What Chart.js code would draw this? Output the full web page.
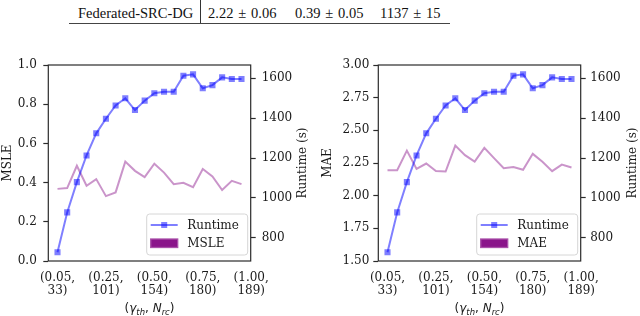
<!DOCTYPE html>
<html>
<head>
<meta charset="utf-8">
<script src="https://cdn.jsdelivr.net/npm/chart.js@4.4.1/dist/chart.umd.min.js"></script>
<style>
  html, body { margin: 0; padding: 0; background: #fff; }
  body { width: 640px; height: 316px; position: relative; overflow: hidden; font-family: 'Liberation Serif', serif; }
  .cell { position: absolute; top: 6px; font-size: 14.5px; line-height: 14.5px; color: #111; white-space: pre; }
  #vrule { position: absolute; left: 200px; top: 0; width: 1px; height: 23px; background: #333; }
  #hrule { position: absolute; left: 69px; top: 22.6px; width: 381px; height: 1.4px; background: #444; }
  .box { position: absolute; top: 30px; width: 320px; height: 286px; }
</style>
</head>
<body>
<div class="cell" style="left:78px">Federated-SRC-DG</div>
<div id="vrule"></div>
<div class="cell" style="left:208px">2.22&#8196;±&#8196;0.06</div>
<div class="cell" style="left:295px">0.39&#8196;±&#8196;0.05</div>
<div class="cell" style="left:380px">1137&#8196;±&#8196;15</div>
<div id="hrule"></div>

<div class="box" style="left:0"><canvas id="msleChart" width="320" height="286"></canvas></div>
<div class="box" style="left:320px"><canvas id="maeChart" width="320" height="286"></canvas></div>

<script>
// values (20 settings of gamma_th / N_rc)
const runtime = [727, 927, 1079, 1213, 1324, 1397, 1464, 1500, 1441, 1488, 1525, 1533, 1533, 1613, 1620, 1550, 1566, 1605, 1597, 1597];
const msle = [0.368, 0.372, 0.486, 0.384, 0.418, 0.331, 0.350, 0.507, 0.460, 0.428, 0.496, 0.451, 0.392, 0.399, 0.377, 0.469, 0.431, 0.362, 0.409, 0.392];
const mae = [2.195, 2.195, 2.345, 2.205, 2.246, 2.188, 2.185, 2.383, 2.310, 2.261, 2.366, 2.287, 2.210, 2.220, 2.198, 2.320, 2.259, 2.188, 2.238, 2.215];

// x tick labels
const tickAt = [0, 5, 10, 15, 20];
const gammaLabels = ['0.05', '0.25', '0.50', '0.75', '1.00'];
const nrcLabels = ['33', '101', '154', '180', '189'];

// y ticks
const msleTicks = [0, 0.2, 0.4, 0.6, 0.8, 1.0];
const maeTicks = [1.5, 1.75, 2.0, 2.25, 2.5, 2.75, 3.0];
const runtimeTicks = [800, 1000, 1200, 1400, 1600];

const textColor = '#1a1a1a';
const spineColor = '#2b2b2b';
const tickFont = { family: '"DejaVu Serif", serif', size: 12 };

// spines, right axis title, x title with subscripts, legend
const decorPlugin = {
    id: 'decor',
    afterDraw(chart, args, opts) {
        const ctx = chart.ctx;
        const a = chart.chartArea;
        ctx.save();
        ctx.strokeStyle = spineColor;
        ctx.lineWidth = 1.2;
        ctx.strokeRect(a.left, a.top, a.right - a.left, a.bottom - a.top);

        // right y title, reads bottom to top
        ctx.fillStyle = textColor;
        ctx.font = '12px "DejaVu Serif", serif';
        ctx.save();
        ctx.translate(a.right + 52.3, (a.top + a.bottom) / 2);
        ctx.rotate(-Math.PI / 2);
        ctx.textAlign = 'center';
        ctx.textBaseline = 'middle';
        ctx.fillText('Runtime (s)', 0, 0);
        ctx.restore();

        // x title: (γ_th, N_rc)
        const parts = [['(', 'n'], ['γ', 'i'], ['th', 's'], [', ', 'n'], ['N', 'i'], ['rc', 's'], [')', 'n']];
        const fontOf = function (k) {
            if (k === 'n') return '12px "DejaVu Sans"';
            if (k === 'i') return 'italic 12px "DejaVu Sans"';
            return 'italic 8.5px "DejaVu Sans"';
        };
        let total = 0;
        parts.forEach(function (p) { ctx.font = fontOf(p[1]); total += ctx.measureText(p[0]).width; });
        let x = (a.left + a.right) / 2 - total / 2;
        const baseY = opts.titleY;
        ctx.textAlign = 'left';
        ctx.textBaseline = 'alphabetic';
        parts.forEach(function (p) {
            ctx.font = fontOf(p[1]);
            ctx.fillText(p[0], x, p[1] === 's' ? baseY + 2.5 : baseY);
            x += ctx.measureText(p[0]).width;
        });

        // legend box in lower right of plot
        const bw = 101, bh = 41;
        const bx = a.right - bw - 3, by = a.bottom - bh - 6;
        ctx.fillStyle = 'rgba(255,255,255,0.85)';
        ctx.strokeStyle = '#d6d6d6';
        ctx.lineWidth = 1;
        ctx.beginPath();
        ctx.roundRect(bx, by, bw, bh, 3);
        ctx.fill();
        ctx.stroke();

        const ds0 = chart.data.datasets[0];
        const ds1 = chart.data.datasets[1];
        const r1 = by + 11, r2 = by + 29;
        ctx.strokeStyle = ds0.borderColor;
        ctx.lineWidth = 2;
        ctx.beginPath();
        ctx.moveTo(bx + 4, r1);
        ctx.lineTo(bx + 31, r1);
        ctx.stroke();
        ctx.fillStyle = ds0.pointBackgroundColor;
        ctx.fillRect(bx + 14.5, r1 - 3, 6, 6);

        ctx.fillStyle = 'rgba(128,0,128,0.92)';
        ctx.strokeStyle = 'rgba(170,80,170,1)';
        ctx.lineWidth = 1.3;
        ctx.fillRect(bx + 4, r2 - 4, 27, 8.5);
        ctx.strokeRect(bx + 4, r2 - 4, 27, 8.5);

        ctx.fillStyle = textColor;
        ctx.font = '12px "DejaVu Serif", serif';
        ctx.textBaseline = 'middle';
        ctx.fillText(ds0.label, bx + 40.5, r1 + 0.5);
        ctx.fillText(ds1.label, bx + 40.5, r2 + 0.5);
        ctx.restore();
    }
};

function makeChart(id, name, values, ticks, digits, yMin, yMax, leftW, rightW, leftPad, rightPad) {
    const ctx = document.getElementById(id).getContext('2d');
    return new Chart(ctx, {
        type: 'line',
        data: {
            datasets: [{
                label: 'Runtime',
                data: runtime.map(function (v, i) { return { x: i, y: v }; }),
                yAxisID: 'y1',
                borderColor: 'rgba(0,0,255,0.5)',
                borderWidth: 2,
                pointStyle: 'rect',
                pointRadius: 4.3,
                pointBorderWidth: 0,
                pointBackgroundColor: 'rgba(0,0,255,0.5)',
                tension: 0
            }, {
                label: name,
                data: values.map(function (v, i) { return { x: i, y: v }; }),
                yAxisID: 'y',
                borderColor: 'rgba(128,0,128,0.42)',
                borderWidth: 2,
                pointRadius: 0,
                tension: 0
            }]
        },
        options: {
            responsive: false,
            animation: false,
            layout: { padding: { top: 35, left: 0, right: 0, bottom: 0 } },
            plugins: {
                legend: { display: false },
                tooltip: { enabled: false },
                decor: { titleY: 282 }
            },
            scales: {
                x: {
                    type: 'linear',
                    min: -0.95,
                    max: 19.95,
                    afterBuildTicks: function (axis) {
                        axis.ticks = tickAt.map(function (v) { return { value: v }; });
                    },
                    afterFit: function (axis) { axis.height = 55; },
                    grid: { display: false, drawTicks: false },
                    border: { display: false },
                    ticks: {
                        autoSkip: false,
                        maxRotation: 0,
                        padding: 10.5,
                        color: textColor,
                        font: { family: '"DejaVu Serif", serif', size: 12, lineHeight: 1.05 },
                        callback: function (v) {
                            const k = tickAt.indexOf(v);
                            return ['(' + gammaLabels[k] + ',', nrcLabels[k] + ')'];
                        }
                    }
                },
                y: {
                    position: 'left',
                    min: yMin,
                    max: yMax,
                    afterBuildTicks: function (axis) {
                        axis.ticks = ticks.map(function (v) { return { value: v }; });
                    },
                    afterFit: function (axis) { axis.width = leftW; },
                    grid: { drawOnChartArea: false, tickLength: 5, tickColor: spineColor, tickWidth: 1.2 },
                    border: { display: false },
                    title: {
                        display: true,
                        text: name,
                        color: textColor,
                        font: { family: '"DejaVu Serif", serif', size: 12 },
                        padding: { top: 0.3, bottom: 0 }
                    },
                    ticks: {
                        padding: leftPad,
                        color: textColor,
                        font: tickFont,
                        callback: function (v) { return v.toFixed(digits); }
                    }
                },
                y1: {
                    position: 'right',
                    min: 683,
                    max: 1667,
                    afterBuildTicks: function (axis) {
                        axis.ticks = runtimeTicks.map(function (v) { return { value: v }; });
                    },
                    afterFit: function (axis) { axis.width = rightW; },
                    grid: { drawOnChartArea: false, tickLength: 5, tickColor: spineColor, tickWidth: 1.2 },
                    border: { display: false },
                    ticks: {
                        padding: rightPad,
                        color: textColor,
                        font: tickFont,
                        callback: function (v) { return String(v); }
                    }
                }
            }
        },
        plugins: [decorPlugin]
    });
}

makeChart('msleChart', 'MSLE', msle, msleTicks, 1, 0, 1.0, 48.3, 69.3, 6.5, 6);
makeChart('maeChart', 'MAE', mae, maeTicks, 2, 1.5, 3.0, 58.3, 59.3, 4, 4.5);
</script>
</body>
</html>
